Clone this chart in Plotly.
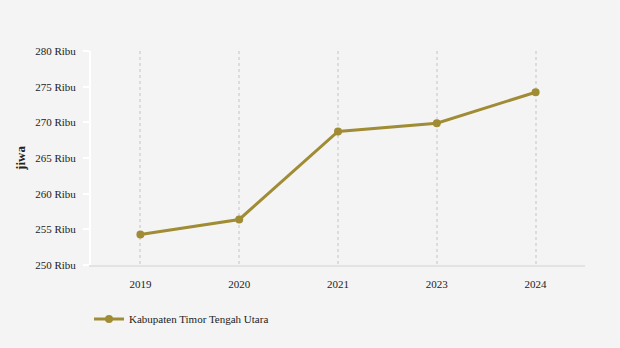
import plotly.graph_objects as go

years = ["2019", "2020", "2021", "2023", "2024"]
values = [254280, 256380, 268720, 269870, 274220]
series_name = "Kabupaten Timor Tengah Utara"
ytick_vals = [250000, 255000, 260000, 265000, 270000, 275000, 280000]
ytick_text = ["250 Ribu", "255 Ribu", "260 Ribu", "265 Ribu", "270 Ribu", "275 Ribu", "280 Ribu"]

color = "#a08c34"

fig = go.Figure()
fig.add_trace(go.Scatter(
    x=years, y=values, mode="lines+markers", name=series_name,
    line=dict(color=color, width=3),
    marker=dict(color=color, size=8),
))

fig.update_layout(
    width=620, height=348,
    paper_bgcolor="#f4f4f4", plot_bgcolor="#f4f4f4",
    margin=dict(l=91, r=35, t=51, b=83),
    font=dict(family="Liberation Serif, Times New Roman, serif", size=11, color="#222"),
    showlegend=True,
    legend=dict(orientation="h", x=-0.004, xanchor="left", y=-0.185, yanchor="top",
                font=dict(size=11), bgcolor="rgba(0,0,0,0)"),
    xaxis=dict(
        type="category", range=[-0.5, 4.5],
        showgrid=True, gridcolor="#dcdcdc", griddash="dot", gridwidth=2,
        showline=True, linecolor="#e3e3e3", linewidth=2,
        ticks="", ticklabelstandoff=8, zeroline=False,
    ),
    yaxis=dict(
        range=[250000, 280000], tickvals=ytick_vals, ticktext=ytick_text,
        showgrid=False, zeroline=False,
        showline=True, linecolor="#ffffff", linewidth=2,
        ticks="outside", tickcolor="#ffffff", ticklen=6, tickwidth=2,
        ticklabelstandoff=5,
        title=dict(text="<b>jiwa</b>", font=dict(size=13), standoff=7),
    ),
)

fig.write_html("out.html")
